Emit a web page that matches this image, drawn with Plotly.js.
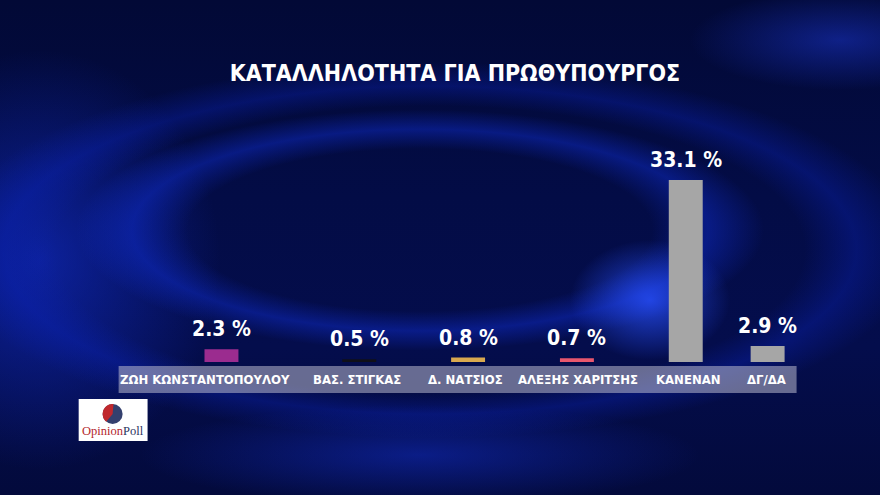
<!DOCTYPE html>
<html><head><meta charset="utf-8">
<script src="https://cdn.plot.ly/plotly-3.0.1.min.js"></script>
<style>
html,body{margin:0;padding:0;width:880px;height:495px;overflow:hidden;}
#bg{position:absolute;left:0;top:0;width:880px;height:495px;
background:
 radial-gradient(ellipse 80px 60px at 650px 300px, rgba(40,80,255,0.8), rgba(20,50,230,0) 100%),
 radial-gradient(ellipse 150px 50px at 840px 40px, rgba(30,60,230,0.45), rgba(0,0,0,0) 100%),
 radial-gradient(ellipse 400px 140px at 420px 230px, rgba(0,0,0,0) 58%, rgba(15,45,210,0.45) 72%, rgba(0,0,0,0) 86%),
 radial-gradient(ellipse 520px 200px at 430px 250px, rgba(0,0,0,0) 72%, rgba(10,35,190,0.35) 82%, rgba(0,0,0,0) 94%),
 radial-gradient(ellipse 280px 50px at 420px 455px, rgba(20,50,220,0.45), rgba(0,0,0,0) 100%),
 radial-gradient(ellipse 180px 210px at 40px 260px, rgba(20,50,225,0.55), rgba(0,0,0,0) 100%),
 linear-gradient(180deg, #020936 0%, #030c46 40%, #040d4c 70%, #030a3c 100%);}
#chart{position:absolute;left:0;top:0;width:880px;height:495px;}
</style></head>
<body><div id="bg"></div><div id="chart"></div>
<script>
const categories = ["ΖΩΗ ΚΩΝΣΤΑΝΤΟΠΟΥΛΟΥ","ΒΑΣ. ΣΤΙΓΚΑΣ","Δ. ΝΑΤΣΙΟΣ","ΑΛΕΞΗΣ ΧΑΡΙΤΣΗΣ","ΚΑΝΕΝΑΝ","ΔΓ/ΔΑ"];
const values = [2.3, 0.5, 0.8, 0.7, 33.1, 2.9];
const barColors = ["#9b2c8f","#101018","#d9a94f","#e8576e","#a6a6a6","#a6a6a6"];
const titleText = "ΚΑΤΑΛΛΗΛΟΤΗΤΑ ΓΙΑ ΠΡΩΘΥΠΟΥΡΓΟΣ";

// layout-only tweaks (pixel shifts of bars / labels from their slot centre)
const barShiftPx = [-29, 0, 0, 0, 0, -27];
const labelShiftPx = [-45, -2, -3, 1, 3, -28];

const FONT = "'DejaVu Sans Condensed','DejaVu Sans',sans-serif";
const L = 195.5, R = 30.5, PLOTW = 880 - L - R;
const UNIT = PLOTW / 6;
const BARW = 34 / UNIT;

const trace = {
  type:"bar", x:categories, y:values,
  marker:{color:barColors}, width:BARW,
  offset: barShiftPx.map(s => s/UNIT - BARW/2),
  hoverinfo:"none"
};

const annotations = values.map((v,i)=>({
  x:categories[i], y:v, xref:"x", yref:"y", yanchor:"bottom", yshift:6, xshift:barShiftPx[i],
  text:"<b>"+v.toFixed(1)+" %</b>", showarrow:false,
  font:{family:FONT, size:21, color:"#ffffff", stretch:"condensed"}
}));
categories.forEach((c,i)=>annotations.push({
  x:c, xref:"x", yref:"paper", y:-0.078, yanchor:"middle", xanchor:"center", xshift:labelShiftPx[i],
  text:"<b>"+c+"</b>", showarrow:false,
  font:{family:FONT, size:13, color:"#ffffff", stretch:"condensed"}
}));
const px = x => (x - L)/PLOTW, py = y => (362 - y)/220;
annotations.push({
  xref:"paper", yref:"paper", x:px(112.5), y:py(431), xanchor:"center", yanchor:"middle",
  text:"<span style='color:#b3262c'>Opinion</span><span style='color:#2b3560'>Poll</span>",
  showarrow:false, font:{family:"'Liberation Serif','DejaVu Serif',serif", size:12.5}
});

const shapes = [
  {type:"rect", xref:"paper", yref:"paper", x0:px(118), x1:px(797), y0:py(393), y1:py(366),
   fillcolor:"rgba(185,185,205,0.55)", line:{width:0}, layer:"below"},
  {type:"rect", xref:"paper", yref:"paper", x0:px(78), x1:px(147), y0:py(441), y1:py(399),
   fillcolor:"#ffffff", line:{width:0}},
  {type:"circle", xref:"paper", yref:"paper", x0:px(102), x1:px(122), y0:py(424), y1:py(404),
   fillcolor:"#34406e", line:{width:0}},
];
(function(){
  const cx=112, cy=414, r=10;
  let p="M "+px(cx)+","+py(cy);
  for(let a=130;a<=275;a+=5){const t=a*Math.PI/180;p+=" L "+px(cx+r*Math.cos(t))+","+py(cy+r*Math.sin(t));}
  p+=" Z";
  shapes.push({type:"path",xref:"paper",yref:"paper",path:p,fillcolor:"#c0282d",line:{width:0}});
})();

const layout = {
  width:880, height:495,
  paper_bgcolor:"rgba(0,0,0,0)", plot_bgcolor:"rgba(0,0,0,0)",
  margin:{l:L, r:R, t:142, b:133},
  title:{text:"<b>"+titleText+"</b>", x:0.517, xref:"container", xanchor:"center", y:0.852, yanchor:"middle",
    font:{family:FONT, size:23, color:"#ffffff", stretch:"condensed"}},
  xaxis:{type:"category", range:[-0.5,5.5], showgrid:false, zeroline:false, showline:false,
    ticks:"", showticklabels:false},
  yaxis:{range:[0,40], visible:false, showgrid:false, zeroline:false},
  showlegend:false,
  annotations:annotations, shapes:shapes
};
Plotly.newPlot("chart",[trace],layout,{displayModeBar:false,staticPlot:true});
</script></body></html>
